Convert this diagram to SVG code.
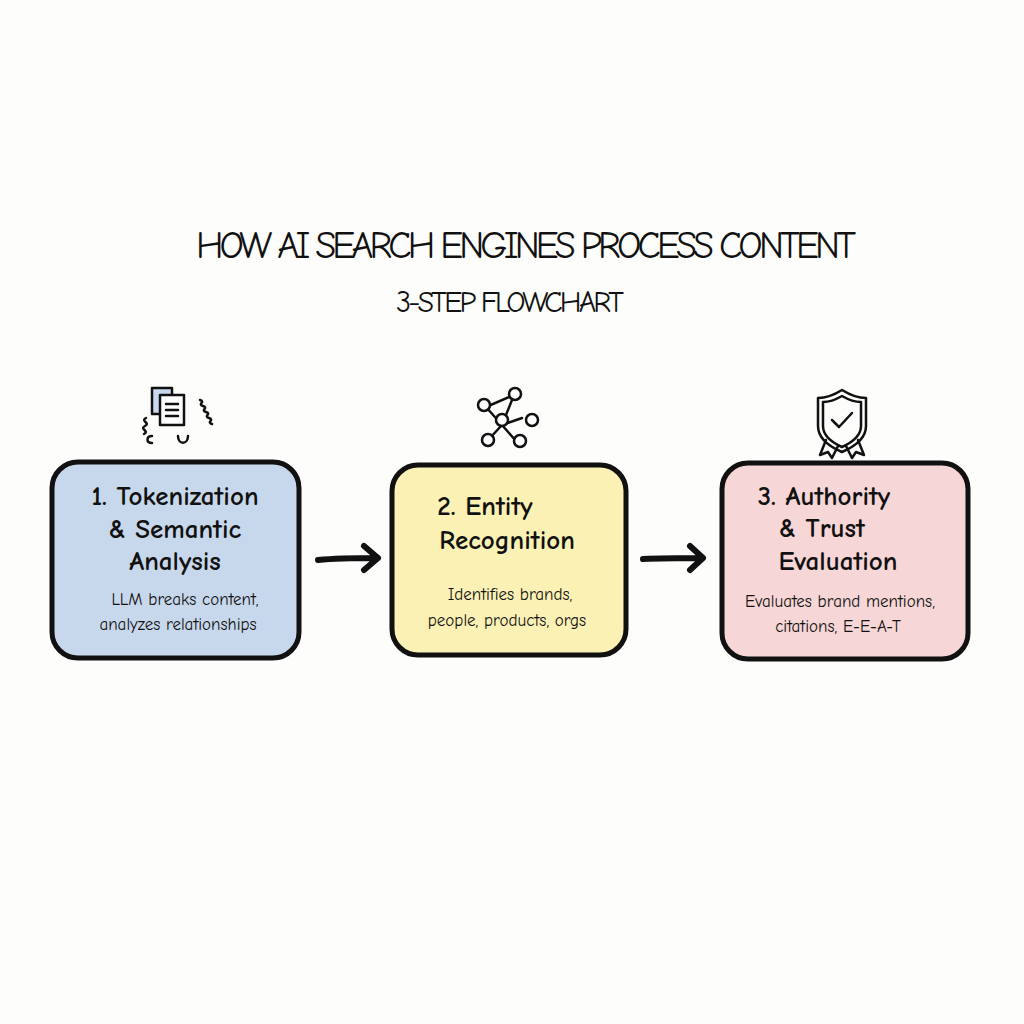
<svg xmlns="http://www.w3.org/2000/svg" width="1024" height="1024" viewBox="0 0 1024 1024">
<style>
.box{stroke:#111;stroke-width:5}
.t{font-family:"Comic Neue","Liberation Sans",sans-serif;fill:#111;text-anchor:middle}
.h{font-size:27px;font-weight:bold}
.s{font-size:17px}
.ic{fill:none;stroke:#111;stroke-width:2.5;stroke-linecap:round;stroke-linejoin:round}
.ar{fill:none;stroke:#111;stroke-width:6;stroke-linecap:round;stroke-linejoin:round}
</style>
<rect width="1024" height="1024" fill="#fdfdfc"/>
<text class="t" x="526" y="258" font-size="38" textLength="660">HOW AI SEARCH ENGINES PROCESS CONTENT</text>
<text class="t" x="510" y="312" font-size="30" textLength="228">3-STEP FLOWCHART</text>
<g id="icon1" class="ic">
<rect x="152" y="388" width="20" height="26" fill="#c9d8ee"/>
<rect x="160" y="395" width="24" height="30" fill="#fff"/>
<path d="M166 404h12M166 410h12M166 416h12"/>
<path d="M200 400c6 2-3 4 3 6s-3 4 3 6-3 4 3 6-3 4 3 6M146 418c-6 3 5 5-1 8s5 5-1 8M152 443c-6 0-6-7 0-7M178 436c0 9 10 9 10 0"/>
</g>
<g id="icon2" class="ic">
<path d="M486 407l28-12M486 407l16 18M514 395l-12 30M502 425l20-7M502 425l-13 14M502 425l14 16"/>
<circle cx="484" cy="405" r="6" fill="#fff"/><circle cx="515" cy="394" r="6" fill="#fff"/>
<circle cx="502" cy="420" r="6" fill="#fff"/><circle cx="532" cy="420" r="6" fill="#fff"/>
<circle cx="488" cy="440" r="6" fill="#fff"/><circle cx="520" cy="441" r="6" fill="#fff"/>
</g>
<g id="icon3" class="ic">
<path d="M842 390c8 5 16 8 24 8v28c0 12-10 20-24 26-14-6-24-14-24-26v-28c8 0 16-3 24-8z"/>
<path d="M842 396c7 4 13 6 19 6v24c0 10-8 16-19 21-11-5-19-11-19-21v-24c6 0 12-2 19-6z"/>
<path d="M832 420l7 7 13-14M826 440l-6 15 8-3 4 6 6-12M858 440l6 15-8-3-4 6-6-12"/>
</g>
<g id="n1">
<rect class="box" x="52" y="462" width="247" height="196" rx="26" fill="#c8d8ec"/>
<text class="t h" x="175" y="505">1. Tokenization</text>
<text class="t h" x="175" y="538">&amp; Semantic</text>
<text class="t h" x="175" y="570">Analysis</text>
<text class="t s" x="185" y="605">LLM breaks content,</text>
<text class="t s" x="178" y="630">analyzes relationships</text>
</g>
<g id="n2">
<rect class="box" x="392" y="465" width="234" height="190" rx="26" fill="#fbf1b5"/>
<text class="t h" x="485" y="515">2. Entity</text>
<text class="t h" x="507" y="549">Recognition</text>
<text class="t s" x="510" y="600">Identifies brands,</text>
<text class="t s" x="507" y="626">people, products, orgs</text>
</g>
<g id="n3">
<rect class="box" x="722" y="463" width="246" height="196" rx="26" fill="#f6d6d6"/>
<text class="t h" x="824" y="505">3. Authority</text>
<text class="t h" x="822" y="537">&amp; Trust</text>
<text class="t h" x="838" y="570">Evaluation</text>
<text class="t s" x="840" y="607">Evaluates brand mentions,</text>
<text class="t s" x="838" y="632">citations, E-E-A-T</text>
</g>
<g id="connectors">
<path class="ar" d="M318 560c20-2 40-2 60-2M364 546l14 12-14 12"/>
<path class="ar" d="M643 559c20-1 40-1 60-1M690 546l13 12-13 12"/>
</g>
</svg>
